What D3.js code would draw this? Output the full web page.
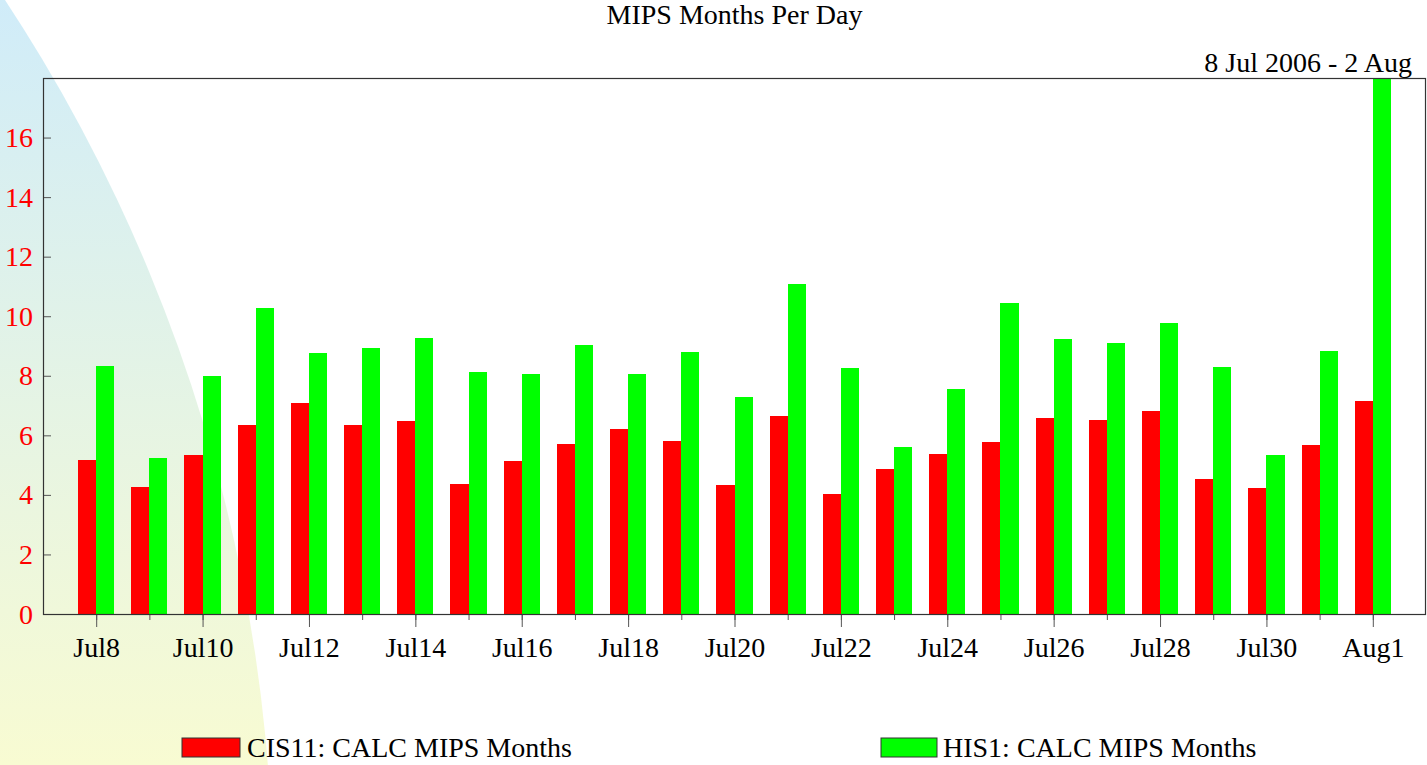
<!DOCTYPE html>
<html>
<head>
<meta charset="utf-8">
<script src="https://cdn.jsdelivr.net/npm/d3@7"></script>
<style>
  body { margin: 0; background: #fff; }
  svg { display: block; }
  svg text { font-family: "Liberation Serif", "Times New Roman", serif; }
  .axis path { display: none; }
  .axis line { stroke: #555; }
</style>
</head>
<body>
<script>
// Data
const days = ['2006-07-08', '2006-07-09', '2006-07-10', '2006-07-11', '2006-07-12',
  '2006-07-13', '2006-07-14', '2006-07-15', '2006-07-16', '2006-07-17',
  '2006-07-18', '2006-07-19', '2006-07-20', '2006-07-21', '2006-07-22',
  '2006-07-23', '2006-07-24', '2006-07-25', '2006-07-26', '2006-07-27',
  '2006-07-28', '2006-07-29', '2006-07-30', '2006-07-31', '2006-08-01'];

const cis11 = [5.17, 4.26, 5.33, 6.34, 7.08, 6.34, 6.47, 4.36, 5.13, 5.70,
  6.21, 5.80, 4.33, 6.64, 4.03, 4.86, 5.37, 5.77, 6.57, 6.51,
  6.81, 4.53, 4.23, 5.67, 7.14];

const his1 = [8.32, 5.23, 7.98, 10.26, 8.75, 8.92, 9.26, 8.12, 8.05, 9.02,
  8.05, 8.79, 7.28, 11.07, 8.25, 5.60, 7.55, 10.43, 9.22, 9.09,
  9.76, 8.29, 5.33, 8.82, 18.0];

const labelDays = ['2006-07-08', '2006-07-10', '2006-07-12', '2006-07-14', '2006-07-16',
  '2006-07-18', '2006-07-20', '2006-07-22', '2006-07-24', '2006-07-26',
  '2006-07-28', '2006-07-30', '2006-08-01'];

const yTicks = [0, 2, 4, 6, 8, 10, 12, 14, 16];

const series = [
  { name: 'CIS11: CALC MIPS Months', values: cis11, color: '#ff0000' },
  { name: 'HIS1: CALC MIPS Months', values: his1, color: '#00ff00' }
];

const title = 'MIPS Months Per Day';
const subtitle = '8 Jul 2006 - 2 Aug';

// Configuration
const W = 1427, H = 765;
const margin = { top: 78, right: 1, bottom: 151, left: 43 };
const width = W - margin.left - margin.right;
const height = H - margin.top - margin.bottom;

const parse = d3.utcParse('%Y-%m-%d');
const dates = days.map(parse);

const x = d3.scaleUtc()
  .domain([d3.utcDay.offset(dates[0], -1), d3.utcDay.offset(dates[dates.length - 1], 1)])
  .range([0, width]);

const y = d3.scaleLinear()
  .domain([0, 18])
  .range([height, 0]);

const dayW = x(dates[1]) - x(dates[0]);
const bw = dayW * 0.34;

const svg = d3.select('body')
  .append('svg')
  .attr('width', W)
  .attr('height', H);

// background swoosh
const grad = svg.append('defs').append('linearGradient')
  .attr('id', 'bg')
  .attr('gradientUnits', 'userSpaceOnUse')
  .attr('x1', 0).attr('y1', 0).attr('x2', 0).attr('y2', H);
grad.append('stop').attr('offset', 0).attr('stop-color', '#d0ecf9');
grad.append('stop').attr('offset', 1).attr('stop-color', '#f8fbd2');

svg.select('defs').append('clipPath')
  .attr('id', 'plotclip')
  .append('rect')
  .attr('width', width)
  .attr('height', height);

svg.append('circle')
  .attr('cx', -1352)
  .attr('cy', 894)
  .attr('r', 1625)
  .attr('fill', 'url(#bg)');

svg.append('text')
  .text(title)
  .attr('x', margin.left + width / 2)
  .attr('y', 24)
  .attr('text-anchor', 'middle')
  .attr('font-size', 28);

svg.append('text')
  .text(subtitle)
  .attr('x', 1412)
  .attr('y', 72)
  .attr('text-anchor', 'end')
  .attr('font-size', 28);

const g = svg.append('g')
  .attr('transform', `translate(${margin.left}, ${margin.top})`);

// bars
const bars = g.append('g').attr('clip-path', 'url(#plotclip)');
series.forEach((s, si) => {
  bars.selectAll('rect.s' + si)
    .data(s.values)
    .enter()
    .append('rect')
    .attr('class', 's' + si)
    .attr('shape-rendering', 'crispEdges')
    .attr('x', (d, i) => x(dates[i]) + (si - 1) * bw)
    .attr('width', bw)
    .attr('y', d => y(d))
    .attr('height', d => y(0) - y(d))
    .attr('fill', s.color);
});

// minor x ticks (every day)
g.append('g')
  .attr('class', 'axis')
  .attr('transform', `translate(0, ${height})`)
  .call(d3.axisBottom(x).tickValues(dates).tickSize(6).tickFormat(''));

// labelled x ticks
const xAxis = g.append('g')
  .attr('class', 'axis')
  .attr('transform', `translate(0, ${height})`)
  .call(d3.axisBottom(x)
    .tickValues(labelDays.map(parse))
    .tickSize(13)
    .tickPadding(10)
    .tickFormat(d3.utcFormat('%b%-d')))
  .attr('font-family', null)
  .attr('font-size', 28);
xAxis.selectAll('text')
  .attr('fill', '#000');

// y ticks inward, red labels
g.append('g')
  .attr('class', 'axis')
  .call(d3.axisRight(y).tickValues(yTicks).tickSize(8).tickFormat(''));

g.selectAll('text.ylab')
  .data(yTicks)
  .enter()
  .append('text')
  .attr('class', 'ylab')
  .text(d => d)
  .attr('x', -10)
  .attr('y', d => y(d))
  .attr('text-anchor', 'end')
  .attr('dominant-baseline', 'central')
  .attr('font-size', 28)
  .attr('fill', '#ff0000');

// frame
g.append('rect')
  .attr('x', 0.5)
  .attr('y', 0.5)
  .attr('width', width - 1)
  .attr('height', height)
  .attr('fill', 'none')
  .attr('stroke', '#333')
  .attr('stroke-width', 1.2);

// legend
const legendX = [182, 881];
const legend = svg.selectAll('g.legend')
  .data(series)
  .enter()
  .append('g')
  .attr('class', 'legend')
  .attr('transform', (d, i) => `translate(${legendX[i]}, 738)`);

legend.append('rect')
  .attr('width', (d, i) => i == 0 ? 58 : 56)
  .attr('height', 19)
  .attr('fill', d => d.color)
  .attr('stroke', '#333')
  .attr('stroke-width', 1);

legend.append('text')
  .text(d => d.name)
  .attr('x', (d, i) => i == 0 ? 65 : 62)
  .attr('y', 19)
  .attr('font-size', 28);
</script>
</body>
</html>
